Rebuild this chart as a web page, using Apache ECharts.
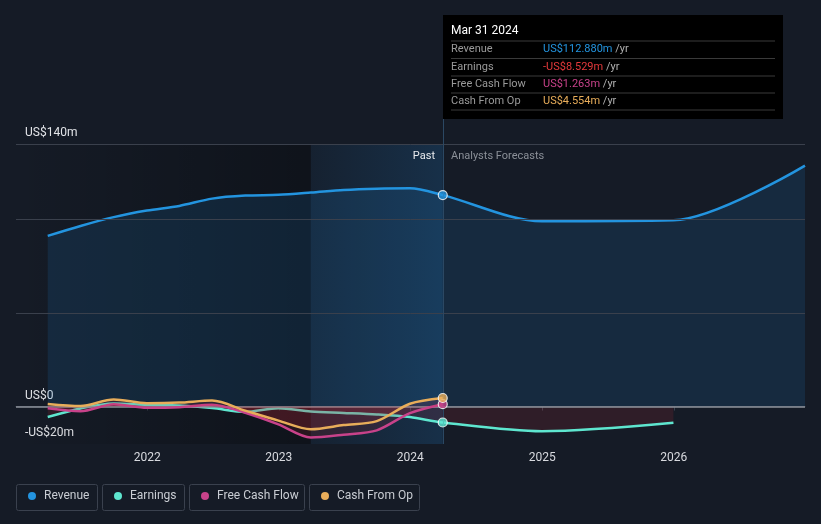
<!DOCTYPE html>
<html>
<head>
<meta charset="utf-8">
<script src="https://cdn.jsdelivr.net/npm/echarts@6/dist/echarts.min.js"></script>
<style>
html,body{margin:0;padding:0;background:#151b26;}
#chart{width:821px;height:524px;}
</style>
</head>
<body>
<div id="chart"></div>
<script>
// ---- data ----
const pastDates = ['2021-03-31','2021-06-30','2021-09-30','2021-12-31','2022-03-31','2022-06-30','2022-09-30','2022-12-31','2023-03-31','2023-06-30','2023-09-30','2023-12-31','2024-03-31'];
const revenueForecastDates = ['2024-12-31','2025-12-31','2026-12-31'];
const earningsForecastDates = ['2024-12-31','2025-12-31'];
const revenuePast = [91.1, 96.4, 101.1, 104.6, 107.1, 111.0, 112.6, 113.0, 114.2, 115.6, 116.3, 116.5, 112.88];
const revenueForecast = [98.9, 99.4, 128.6];
const earningsPast = [-5.6, -1.0, 1.6, 0.9, 0.5, -0.8, -2.9, -0.9, -2.7, -3.4, -4.2, -5.6, -8.529];
const earningsForecast = [-13.2, -8.7];
const fcfPast = [-0.9, -2.5, 1.2, -0.7, -0.4, 1.0, -3.3, -9.5, -16.5, -15.0, -12.7, -3.5, 1.263];
const cfoPast = [1.4, 0.3, 3.8, 1.8, 2.1, 3.2, -2.2, -7.5, -12.1, -9.9, -7.8, 1.5, 4.554];
const xMin = '2021-01-02', xMax = '2026-12-31';
const yLabelValues = [-20, 0, 140];
const gridLineValues = [50, 100, 140];
const seriesNames = ['Revenue','Earnings','Free Cash Flow','Cash From Op'];
const colors = ['#2394df','#5ee6cf','#c8428a','#e8ad5a'];
const valueColors = ['#2394df','#e5393b','#c8428a','#e8ad5a'];
const tooltipTitle = 'Mar 31 2024';

// ---- helpers ----
const ts = d => new Date(d + 'T00:00:00').getTime();
const pair = (dates, vals) => dates.map((d, i) => [ts(d), vals[i]]);
const lastPastDate = pastDates[pastDates.length - 1];
const revenueData = pair(pastDates, revenuePast).concat(pair(revenueForecastDates, revenueForecast));
const earningsData = pair(pastDates, earningsPast).concat(pair(earningsForecastDates, earningsForecast));
const fcfData = pair(pastDates, fcfPast);
const cfoData = pair(pastDates, cfoPast);
const lastVals = [revenuePast, earningsPast, fcfPast, cfoPast].map(a => a[a.length - 1]);
const fmtMoney = v => (v < 0 ? '-US$' : 'US$') + Math.abs(v).toFixed(3) + 'm';
const fmtAxis = v => v === 0 ? 'US$0' : (v < 0 ? '-US$' + (-v) + 'm' : 'US$' + v + 'm');

const redArea = 'rgba(205,45,60,0.2)';
const FONT = 'Roboto, "Noto Sans", sans-serif';
const YEAR = 365.25 * 86400000;
const SMOOTH = 0.3;

const chart = echarts.init(document.getElementById('chart'), null, {renderer: 'canvas'});

// tooltip-like box
const boxX = 443, boxY = 15, boxW = 340, boxH = 104;
const rowYs = [49.5, 67, 84.5, 101.5];
const sepYs = [41, 58.5, 76, 93, 110];
const boxChildren = [
  {type: 'rect', shape: {x: boxX, y: boxY, width: boxW, height: boxH}, style: {fill: '#000'}},
  {type: 'text', x: 451, y: 31, style: {text: tooltipTitle, fill: '#ffffff', font: '12px ' + FONT, verticalAlign: 'middle'}}
];
sepYs.forEach(y => boxChildren.push({type: 'line', shape: {x1: 451, y1: y, x2: 775, y2: y}, style: {stroke: '#3a3a3a', lineWidth: 1}}));
seriesNames.forEach((n, i) => {
  boxChildren.push({type: 'text', x: 451, y: rowYs[i], style: {text: n, fill: '#9a9a9a', font: '11px ' + FONT, verticalAlign: 'middle'}});
  boxChildren.push({type: 'text', x: 543, y: rowYs[i], style: {
    text: '{v|' + fmtMoney(lastVals[i]) + '} {u|/yr}', verticalAlign: 'middle', font: '11px ' + FONT,
    rich: {v: {fill: valueColors[i], font: '11px ' + FONT}, u: {fill: '#b0b0b0', font: '11px ' + FONT}}
  }});
});

// legend boxes
const legendBoxes = [[16, 81], [102, 82], [189, 115], [309, 110]];
const legendLefts = [28, 114, 201, 321];
const legendGraphics = legendBoxes.map(b => ({
  type: 'rect', shape: {x: b[0] + 0.5, y: 484.5, width: b[1], height: 26, r: 2},
  style: {fill: 'transparent', stroke: '#3a414e', lineWidth: 1}, z: 0
}));

const option = {
  backgroundColor: '#151b26',
  animation: false,
  textStyle: {fontFamily: FONT},
  grid: {left: 16, right: 16, top: 119, bottom: 80, containLabel: false},
  xAxis: {
    type: 'time', min: ts(xMin), max: ts(xMax),
    minInterval: YEAR * 0.98, maxInterval: YEAR * 1.02,
    axisLine: {lineStyle: {color: '#3b4250', width: 1}},
    axisTick: {show: true, length: 4, lineStyle: {color: '#3b4250'}},
    axisLabel: {formatter: v => String(new Date(v).getFullYear()), color: '#d8dadf', fontSize: 12, margin: 8, fontFamily: FONT, showMinLabel: false, showMaxLabel: false},
    splitLine: {show: false}
  },
  yAxis: {
    type: 'value', min: -20, max: 153.5,
    splitLine: {show: false}, axisLine: {show: false}, axisTick: {show: false},
    axisLabel: {inside: true, customValues: yLabelValues, formatter: fmtAxis, color: '#e2e4e8', fontSize: 12, margin: 9,
      verticalAlign: 'bottom', padding: [0, 0, 5, 0], fontFamily: FONT}
  },
  legend: seriesNames.map((n, i) => ({
    data: [n], left: legendLefts[i], top: 490, padding: 0, icon: 'circle', itemWidth: 8, itemHeight: 8,
    textStyle: {color: '#c9cdd3', fontSize: 12, fontFamily: FONT, padding: [0, 0, 0, 3]},
    selectedMode: false
  })),
  graphic: [
    {type: 'group', children: boxChildren, z: 100},
    {type: 'text', x: 435, y: 156, style: {text: 'Past', fill: '#e8eaed', font: '11px ' + FONT, align: 'right', verticalAlign: 'middle'}, z: 50},
    {type: 'text', x: 451, y: 156, style: {text: 'Analysts Forecasts', fill: '#8b9098', font: '11px ' + FONT, align: 'left', verticalAlign: 'middle'}, z: 50}
  ].concat(legendGraphics),
  series: [
    {
      name: 'bg', type: 'line', data: [], z: 0, silent: true,
      markArea: {silent: true, data: [
        [{xAxis: ts(xMin), yAxis: 140, itemStyle: {color: new echarts.graphic.LinearGradient(0, 0, 1, 0, [{offset: 0, color: 'rgba(0,0,0,0)'}, {offset: 1, color: 'rgba(0,0,0,0.3)'}])}}, {xAxis: ts('2023-03-31'), yAxis: -20}],
        [{xAxis: ts('2023-03-31'), yAxis: 140, itemStyle: {color: new echarts.graphic.LinearGradient(0, 0, 1, 0, [{offset: 0, color: 'rgba(33,150,243,0.05)'}, {offset: 1, color: 'rgba(33,150,243,0.17)'}])}}, {xAxis: ts(lastPastDate), yAxis: -20}]
      ]},
      markLine: {silent: true, symbol: 'none', label: {show: false}, data: [
        ...gridLineValues.map(v => ({yAxis: v, lineStyle: {color: '#3a404c', width: 1, type: 'solid'}})),
        {xAxis: ts(lastPastDate), lineStyle: {color: '#2b4863', width: 1, type: 'solid'}}
      ]}
    },
    {
      name: 'Revenue', type: 'line', data: revenueData, smooth: SMOOTH, symbol: 'none', z: 2,
      lineStyle: {color: colors[0], width: 2.5}, itemStyle: {color: colors[0]},
      areaStyle: {color: 'rgba(33,150,243,0.18)', origin: 0}
    },
    {
      name: 'zero', type: 'line', data: [], z: 3, silent: true,
      markLine: {silent: true, symbol: 'none', label: {show: false}, data: [{yAxis: 0, lineStyle: {color: '#8e939b', width: 1.5, type: 'solid'}}]}
    },
    {
      name: 'Earnings', type: 'line', data: earningsData, smooth: SMOOTH, symbol: 'none', z: 4,
      lineStyle: {color: colors[1], width: 2.5}, itemStyle: {color: colors[1]},
      areaStyle: {color: redArea, origin: 0}
    },
    {
      name: 'Free Cash Flow', type: 'line', data: fcfData, smooth: SMOOTH, symbol: 'none', z: 5,
      lineStyle: {color: colors[2], width: 2.5}, itemStyle: {color: colors[2]},
      areaStyle: {color: redArea, origin: 0}
    },
    {
      name: 'Cash From Op', type: 'line', data: cfoData, smooth: SMOOTH, symbol: 'none', z: 6,
      lineStyle: {color: colors[3], width: 2.5}, itemStyle: {color: colors[3]},
      areaStyle: {color: redArea, origin: 0}
    },
    {
      name: 'markers', type: 'scatter', z: 10, symbolSize: 9, silent: true,
      data: lastVals.map((v, i) => ({value: [ts(lastPastDate), v], itemStyle: {color: colors[i], borderColor: '#ffffff', borderWidth: 1.2}}))
    }
  ]
};
chart.setOption(option);
</script>
</body>
</html>
